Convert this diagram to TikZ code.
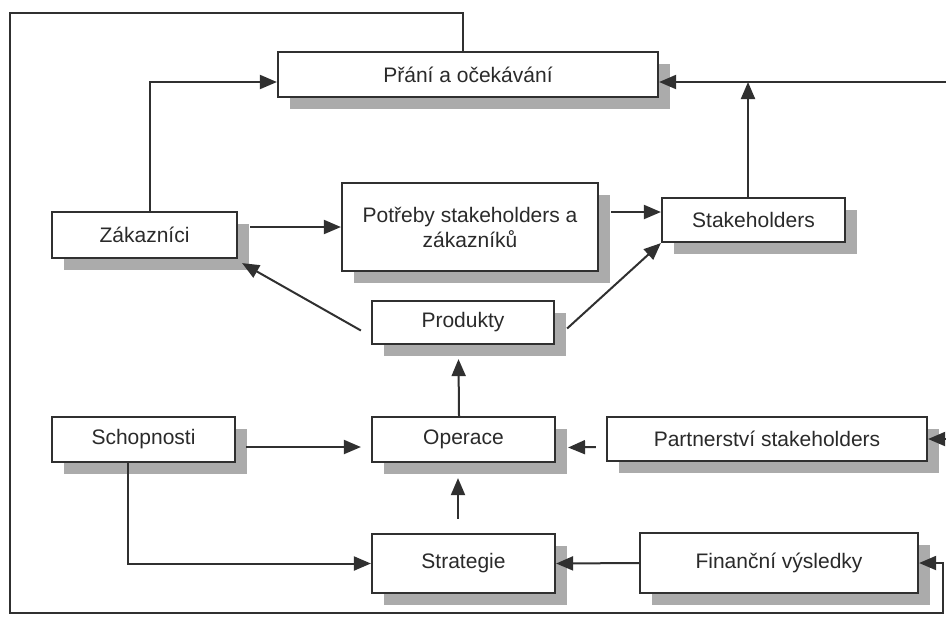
\documentclass[tikz,border=0pt]{standalone}
\usepackage{fontspec}
\setmainfont{Liberation Sans}
\usetikzlibrary{positioning,arrows.meta,calc,shadows}
\definecolor{cline}{HTML}{303030}
\definecolor{cshade}{HTML}{ababab}
\definecolor{ctext}{HTML}{2a2a2a}

\begin{document}
\begin{tikzpicture}[x=.5pt, y=-.5pt, every node/.style={font=\fontsize{10.5}{12.5}\selectfont, text=ctext},
    box/.style={draw=cline, line width=1.1pt, fill=white, inner sep=0pt, align=center,
      drop shadow={shadow xshift=6pt, shadow yshift=-6pt, fill=cshade, opacity=1}},
    arr/.style={draw=cline, line width=1pt, -{Triangle[length=8.5pt, width=7pt]}}]
      \useasboundingbox (0,0) rectangle (946,617);
      \node[box, minimum width=190pt, minimum height=22.5pt] (prani) at (468,74.5) {Přání a očekávání};
      \node[box, minimum width=92.5pt, minimum height=23pt] (zak) at (144.5,235) {Zákazníci};
      \node[box, minimum width=128pt, minimum height=44pt] (potr) at (470,227) {Potřeby stakeholders a\\zákazníků};
      \node[box, minimum width=91.5pt, minimum height=22pt] (stake) at (753.5,220) {Stakeholders};
      \node[box, minimum width=91pt, minimum height=21.5pt] (prod) at (463,322.5) {Produkty};
      \node[box, minimum width=91.5pt, minimum height=22.5pt] (schop) at (143.5,439.5) {Schopnosti};
      \node[box, minimum width=91.5pt, minimum height=22.5pt] (oper) at (463.5,439.5) {Operace};
      \node[box, minimum width=160pt, minimum height=22pt] (partn) at (767,439) {Partnerství stakeholders};
      \node[box, minimum width=91.5pt, minimum height=29.5pt] (strat) at (463.5,563.5) {Strategie};
      \node[box, minimum width=139pt, minimum height=30pt] (fin) at (779,563) {Finanční výsledky};
      % free ends and corners of the outer loop
      \coordinate (rtop) at (946,82);
      \coordinate (rmid) at (946,439);
      \coordinate (lt) at (10,13);
      \coordinate (lb) at (10,613);
      \coordinate (rb) at (943,613);
      \draw[arr] (rtop) -- (rtop -| prani.east);
      \draw[arr] ($(stake.north)+(-2.75pt,0)$) -- ($(stake.north |- rtop)+(-2.75pt,0)$);
      \draw[arr] ($(zak.north)+(2.75pt,0)$) |- (rtop -| prani.west);
      \draw[arr] ($(zak.east)+(6pt,4pt)$) -- ($(zak.east -| potr.west)+(0,4pt)$);
      \draw[arr] ($(stake.west -| potr.east)+(6pt,4pt)$) -- ($(stake.west)+(0,4pt)$);
      \draw[arr] ($(prod.west)+(-5pt,-4pt)$) -- ($(zak.south east)+(2pt,-2pt)$);
      \draw[arr] ($(prod.east)+(6pt,-3pt)$) -- (stake.south west);
      \draw[arr] ($(oper.north)+(-2.25pt,0)$) -- ($(prod.south)+(-2.25pt,-7pt)$);
      \draw[arr] ($(strat.north)+(-2.75pt,7pt)$) -- ($(oper.south)+(-2.75pt,-7.5pt)$);
      \draw[arr] ($(schop.east)+(5pt,-3.75pt)$) -- ($(oper.west)+(-5pt,-3.75pt)$);
      \draw[arr] ($(schop.south)+(-7.75pt,0)$) |- (strat.west);
      \draw[arr] ($(partn.west)+(-5pt,-4pt)$) -- ($(oper.east)+(6pt,-4pt)$);
      \draw[arr] (fin.west) -- (strat.east);
      \draw[arr] (rmid) -- (partn.east);
      \draw[arr] ($(prani.north)+(-2.5pt,0)$) |- (lt) -- (lb) -- (rb) |- (fin.east);
    \end{tikzpicture}
\end{document}
